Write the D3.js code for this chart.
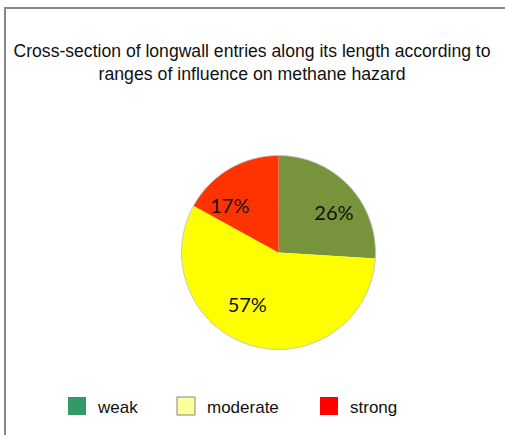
<!DOCTYPE html>
<html><head><meta charset="utf-8">
<script src="https://cdn.jsdelivr.net/npm/d3@7/dist/d3.min.js"></script>
<style>body{margin:0;background:#fff}svg{display:block}</style>
</head><body>
<script>
const categories = ["weak", "moderate", "strong"];
const values = [26, 57, 17];
const sliceColors = ["#77933C", "#FFFF00", "#FF3300"];
const legendColors = ["#339966", "#FFFF99", "#FF0000"];
const titleLines = ["Cross-section of longwall entries along its length according to", "ranges of influence on methane hazard"];

const W = 505, H = 435;
const svg = d3.select("body").append("svg").attr("width", W).attr("height", H);
svg.append("rect").attr("width", W).attr("height", H).attr("fill", "#fff");
// frame
svg.append("path").attr("d", `M5,${H} V8 H${W}`).attr("fill", "none").attr("stroke", "#888").attr("stroke-width", 2);

const titleLen = [477, 307];
svg.selectAll("text.title").data(titleLines).join("text")
  .attr("class", "title")
  .attr("x", 252).attr("y", (d, i) => 57 + i * 23)
  .attr("text-anchor", "middle")
  .attr("font-family", "Liberation Sans, Arial, sans-serif")
  .attr("font-size", 17.5)
  .attr("textLength", (d, i) => titleLen[i])
  .attr("lengthAdjust", "spacingAndGlyphs")
  .attr("fill", "#111")
  .text(d => d);

const cx = 278.5, cy = 252.5, r = 97;
const pie = d3.pie().sort(null).value(d => d)(values);
const arc = d3.arc().innerRadius(0).outerRadius(r);
const g = svg.append("g").attr("transform", `translate(${cx},${cy})`);
g.selectAll("path").data(pie).join("path")
  .attr("d", arc)
  .attr("fill", (d, i) => sliceColors[i]);
g.append("circle").attr("r", r).attr("fill", "none").attr("stroke", "#bbb").attr("stroke-width", 0.8);

// best-fit label nudges (Excel-style placement)
const labelNudge = [[13, 0], [-15, -4], [-19, 3]];
const labelArc = d3.arc().innerRadius(r * 0.6).outerRadius(r * 0.6);
g.selectAll("text").data(pie).join("text")
  .attr("transform", (d, i) => { const c = labelArc.centroid(d); return `translate(${c[0] + labelNudge[i][0]},${c[1] + labelNudge[i][1]})`; })
  .attr("text-anchor", "middle").attr("dy", "0.36em")
  .attr("font-family", "Lato, Open Sans, sans-serif")
  .attr("font-size", 20)
  .attr("fill", "#111")
  .text(d => d.value + "%");

const legendX = [68, 177, 320];
const lg = svg.append("g");
categories.forEach((c, i) => {
  lg.append("rect").attr("x", legendX[i]).attr("y", 397).attr("width", 18).attr("height", 18)
    .attr("fill", legendColors[i])
    .attr("stroke", i === 1 ? "#888" : "none").attr("stroke-width", 1);
  lg.append("text").attr("x", legendX[i] + 30).attr("y", 413)
    .attr("font-family", "Liberation Sans, Arial, sans-serif")
    .attr("font-size", 17).attr("fill", "#111").text(c);
});
</script>
</body></html>
